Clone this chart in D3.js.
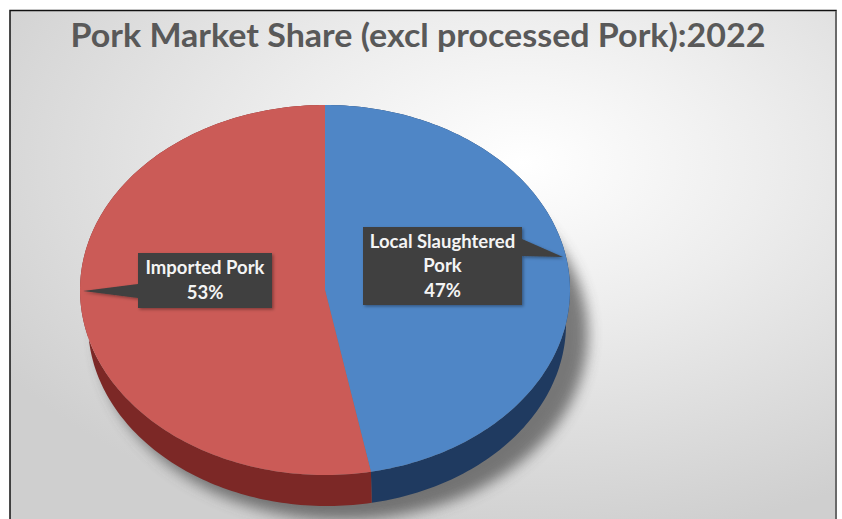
<!DOCTYPE html>
<html>
<head>
<meta charset="utf-8">
<script src="https://cdn.jsdelivr.net/npm/d3@7/dist/d3.min.js"></script>
<style>
  html, body { margin: 0; padding: 0; background: #ffffff; }
  svg { display: block; }
</style>
</head>
<body>
<svg id="chart" width="842" height="519"></svg>
<script>
// Pork market share, 2022 (excluding processed pork)
const categories = ["Local Slaughtered Pork", "Imported Pork"];
const shares = [47, 53];
const labelLines = [["Local Slaughtered", "Pork", "47%"], ["Imported Pork", "53%"]];
const topColors = ["#4f86c6", "#cb5b57"];
const sideColors = ["#1f3a60", "#7c2826"];
const titleText = "Pork Market Share (excl processed Pork):2022";

const W = 842, H = 519;
const svg = d3.select("#chart");
const defs = svg.append("defs");

// background panel gradient
const bg = defs.append("radialGradient").attr("id", "bgGrad")
  .attr("cx", "0.62").attr("cy", "0.3").attr("r", "0.75");
bg.append("stop").attr("offset", "0").attr("stop-color", "#ffffff");
bg.append("stop").attr("offset", "0.4").attr("stop-color", "#ededed");
bg.append("stop").attr("offset", "1").attr("stop-color", "#cfcfcf");

const blur = defs.append("filter").attr("id", "shadowBlur")
  .attr("x", "-20%").attr("y", "-20%").attr("width", "140%").attr("height", "140%");
blur.append("feGaussianBlur").attr("stdDeviation", 7);

const boxShadow = defs.append("filter").attr("id", "boxShadow")
  .attr("x", "-20%").attr("y", "-20%").attr("width", "140%").attr("height", "140%");
boxShadow.append("feDropShadow").attr("dx", 1.5).attr("dy", 1.5)
  .attr("stdDeviation", 1.5).attr("flood-color", "#000").attr("flood-opacity", 0.35);

// panel + frame
svg.append("rect").attr("x", 10).attr("y", 10).attr("width", 826).attr("height", H - 10)
  .attr("fill", "url(#bgGrad)");
svg.append("path").attr("d", `M10,${H} L10,10.5 L836,10.5 L836,${H}`)
  .attr("fill", "none").attr("stroke", "#111").attr("stroke-width", 1.5);
svg.append("line").attr("x1", 836).attr("x2", 836).attr("y1", 11).attr("y2", H)
  .attr("stroke", "#6a6a6a").attr("stroke-width", 2);

// title
svg.append("text")
  .attr("x", 418).attr("y", 47)
  .attr("text-anchor", "middle")
  .attr("font-family", "Lato, 'Open Sans', sans-serif")
  .attr("font-weight", 700)
  .attr("font-size", 33)
  .attr("textLength", 695)
  .attr("lengthAdjust", "spacingAndGlyphs")
  .attr("fill", "#595959")
  .text(titleText);

// 3D pie geometry: top face ellipse and a slightly smaller, lowered base ellipse
const face = { cx: 325, cy: 290, rx: 245, ry: 185 };
const base = { cx: 327, cy: 324, rx: 239, ry: 182 };
const pt = (e, a) => [e.cx + e.rx * Math.sin(a), e.cy - e.ry * Math.cos(a)];

const pie = d3.pie().sort(null).value(d => d);
const arcs = pie(shares);

// soft floor shadow
svg.append("ellipse")
  .attr("cx", base.cx + 16).attr("cy", base.cy + 10)
  .attr("rx", base.rx + 6).attr("ry", base.ry + 4)
  .attr("fill", "#4a4a4a").attr("opacity", 0.7)
  .attr("filter", "url(#shadowBlur)");

const line = d3.line();
function arcPoints(e, a0, a1) {
  const n = Math.max(8, Math.ceil(Math.abs(a1 - a0) / 0.02));
  return d3.range(n + 1).map(i => pt(e, a0 + (a1 - a0) * i / n));
}

// slice walls
const g = svg.append("g");
arcs.forEach((d, i) => {
  const outer = arcPoints(face, d.startAngle, d.endAngle);
  const inner = arcPoints(base, d.startAngle, d.endAngle).reverse();
  g.append("path")
    .attr("d", line(outer.concat(inner)) + "Z")
    .attr("fill", sideColors[i]);
});

// top faces
arcs.forEach((d, i) => {
  const pts = [[face.cx, face.cy]].concat(arcPoints(face, d.startAngle, d.endAngle));
  g.append("path")
    .attr("d", line(pts) + "Z")
    .attr("fill", topColors[i]);
});

// callout labels
const callouts = [
  { x: 363, y: 227, w: 159, h: 78, tip: [563, 257], side: "right", py0: 239, py1: 256 },
  { x: 138, y: 253, w: 134, h: 55, tip: [83, 291], side: "left", py0: 284, py1: 298 }
];
arcs.forEach((d, i) => {
  const c = callouts[i];
  const bx0 = c.x, bx1 = c.x + c.w, by0 = c.y, by1 = c.y + c.h;
  let p;
  if (c.side === "right") {
    p = [[bx0, by0], [bx1, by0], [bx1, c.py0], c.tip, [bx1, c.py1], [bx1, by1], [bx0, by1]];
  } else {
    p = [[bx0, by0], [bx1, by0], [bx1, by1], [bx0, by1], [bx0, c.py1], c.tip, [bx0, c.py0]];
  }
  svg.append("path").attr("d", line(p) + "Z")
    .attr("fill", "#404040").attr("filter", "url(#boxShadow)");
  const lines = labelLines[i];
  const lh = 24.5;
  const firstBase = (by0 + by1) / 2 - (lines.length - 1) * lh / 2 + 6;
  const t = svg.append("text")
    .attr("text-anchor", "middle")
    .attr("font-family", "Lato, 'Open Sans', sans-serif")
    .attr("font-weight", 700)
    .attr("font-size", 18.5)
    .attr("fill", "#f4f4f4");
  lines.forEach((s, k) => {
    t.append("tspan").attr("x", c.x + c.w / 2).attr("y", firstBase + k * lh).text(s);
  });
});
</script>
</body>
</html>
